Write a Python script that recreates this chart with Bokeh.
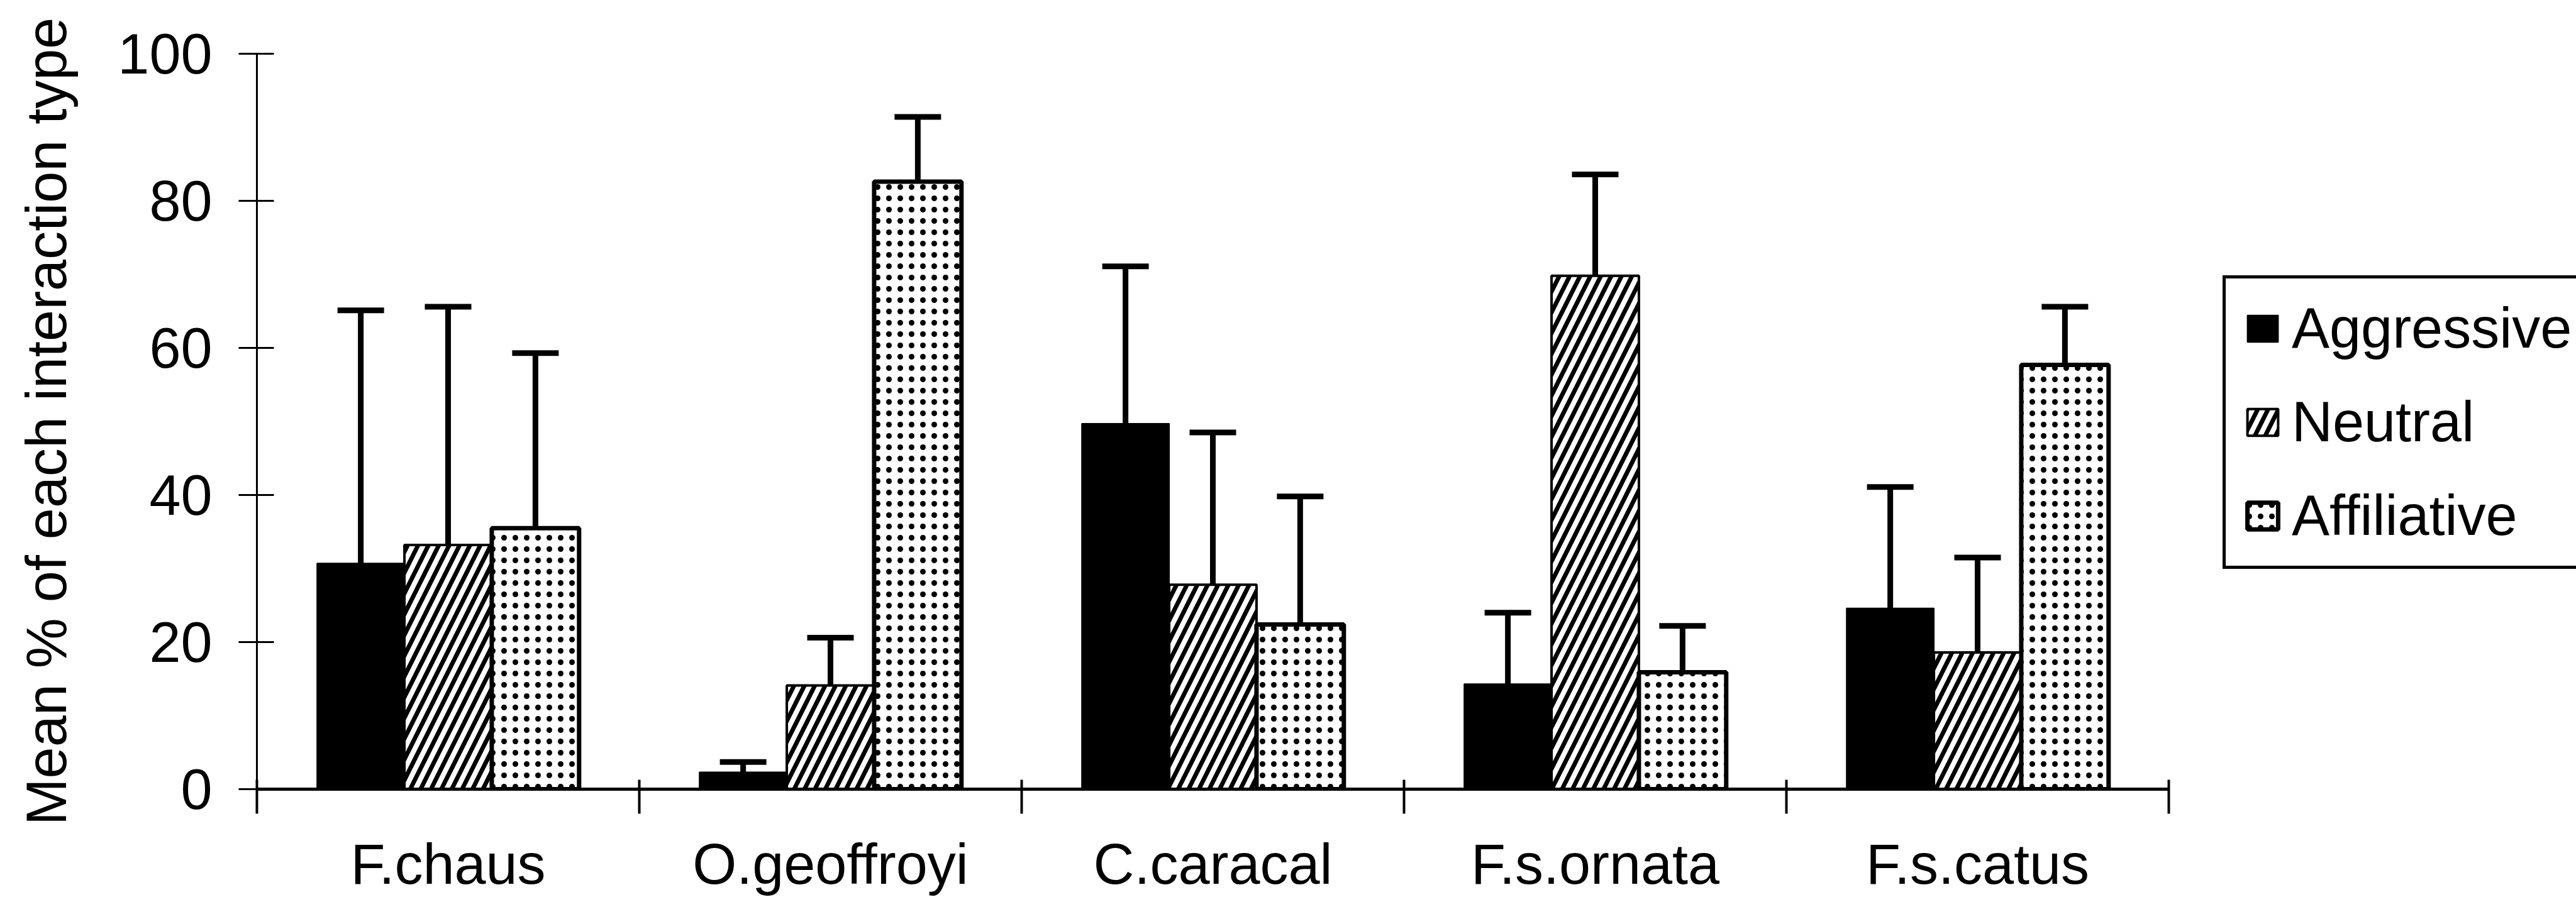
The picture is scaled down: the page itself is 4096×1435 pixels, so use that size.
from bokeh.plotting import figure
from bokeh.models import (ColumnDataSource, FixedTicker, Legend, LegendItem,
                          Whisker, TeeHead, Range1d)
from bokeh.embed import file_html
from bokeh.resources import INLINE

# ---- data ----
categories = ["F.chaus", "O.geoffroyi", "C.caracal", "F.s.ornata", "F.s.catus"]
series_names = ["Aggressive", "Neutral", "Affiliative"]
aggressive = [30.7, 2.3, 49.7, 14.3, 24.6]
aggressive_sd = [34.4, 1.4, 21.4, 9.7, 16.5]
neutral = [33.2, 14.1, 27.8, 69.8, 18.6]
neutral_sd = [32.4, 6.5, 20.7, 13.8, 12.9]
affiliative = [35.5, 82.6, 22.4, 15.9, 57.7]
affiliative_sd = [23.8, 8.8, 17.4, 6.3, 7.9]
y_ticks = [0, 20, 40, 60, 80, 100]
y_label = "Mean % of each interaction type"

FONT = "Liberation Sans"
BAR_W = 0.2284

# layout (pixels)
FIG_W, FIG_H = 4096, 1435
BORDER_L, BORDER_T, BORDER_B = 408, 85, 180
AXIS_PX = 3040                      # width of the five categories
FRAME_W = FIG_W - BORDER_L          # frame runs to the right edge (room for legend)
n = len(categories)
x_end = n * FRAME_W / AXIS_PX

p = figure(width=FIG_W, height=FIG_H,
           x_range=Range1d(0, x_end), y_range=Range1d(0, 100),
           output_backend="svg", toolbar_location=None,
           min_border_left=BORDER_L, min_border_right=0,
           min_border_top=BORDER_T, min_border_bottom=BORDER_B)
p.outline_line_color = None
p.grid.visible = False
p.background_fill_color = "white"
p.border_fill_color = "white"

styles = [
    dict(fill_color="black", line_color="black", line_width=2),
    dict(fill_color="white", line_color="black", line_width=4,
         hatch_pattern="/", hatch_color="black",
         hatch_scale=33, hatch_weight=7),
    dict(fill_color="white", line_color="black", line_width=7,
         hatch_pattern=".", hatch_color="black",
         hatch_scale=18, hatch_weight=5),
]
values = [aggressive, neutral, affiliative]
sds = [aggressive_sd, neutral_sd, affiliative_sd]

renderers = []
for j, (vals, sd, st) in enumerate(zip(values, sds, styles)):
    xs = [i + 0.5 + (j - 1) * BAR_W for i in range(n)]
    src = ColumnDataSource(dict(x=xs, top=vals,
                                upper=[v + s for v, s in zip(vals, sd)]))
    r = p.vbar(x="x", top="top", bottom=0, width=BAR_W, source=src, **st)
    renderers.append(r)
    w = Whisker(source=src, base="x", lower="top", upper="upper",
                line_color="black", line_width=9, level="annotation",
                upper_head=TeeHead(size=74, line_width=9, line_color="black"),
                lower_head=None)
    p.add_layout(w)

# x axis: labels at category centres, ticks at category boundaries
xa = p.xaxis[0]
xa.bounds = (-0.05, n)
xa.ticker = FixedTicker(ticks=[i + 0.5 for i in range(n)],
                        minor_ticks=list(range(n + 1)))
xa.major_label_overrides = {i + 0.5: c for i, c in enumerate(categories)}
xa.major_tick_in = 0
xa.major_tick_out = 0
xa.minor_tick_in = 15
xa.minor_tick_out = 39
xa.minor_tick_line_width = 4
xa.minor_tick_line_color = "black"
xa.axis_line_width = 5
xa.axis_line_color = "black"
xa.major_label_standoff = 30
xa.major_label_text_font = FONT
xa.major_label_text_font_size = "90px"
xa.major_label_text_color = "black"

ya = p.yaxis[0]
ya.ticker = FixedTicker(ticks=y_ticks, minor_ticks=[])
ya.major_tick_in = 27
ya.major_tick_out = 29
ya.major_tick_line_width = 3
ya.major_tick_line_color = "black"
ya.axis_line_width = 3
ya.axis_line_color = "black"
ya.major_label_standoff = 42
ya.major_label_text_font = FONT
ya.major_label_text_font_size = "90px"
ya.major_label_text_color = "black"
ya.axis_label = y_label
ya.axis_label_text_font = FONT
ya.axis_label_text_font_size = "90px"
ya.axis_label_text_font_style = "normal"
ya.axis_label_text_color = "black"
ya.axis_label_standoff = 60

legend = Legend(items=[LegendItem(label=s, renderers=[r])
                       for s, r in zip(series_names, renderers)],
                location=(3126, 350), margin=0, padding=28, spacing=46,
                glyph_width=61, glyph_height=53, label_standoff=16,
                label_width=470,
                label_text_font=FONT, label_text_font_size="90px",
                label_text_color="black",
                border_line_color="black", border_line_width=5,
                border_line_alpha=1.0,
                background_fill_color="white", background_fill_alpha=1.0)
p.add_layout(legend)

open("out.html", "w").write(file_html(p, INLINE))
